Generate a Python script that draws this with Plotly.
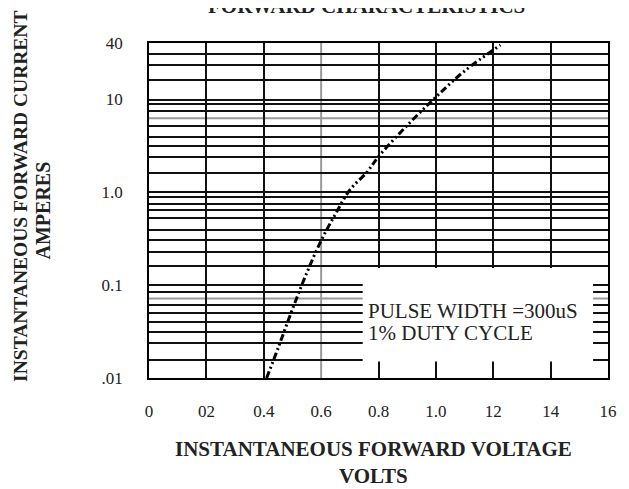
import math
import plotly.graph_objects as go

# ---- data ----
volts = [0.41, 0.45, 0.50, 0.55, 0.60, 0.65, 0.70, 0.76, 0.80, 0.90, 1.00, 1.10, 1.225]
amps = [0.010, 0.021, 0.055, 0.135, 0.30, 0.58, 1.05, 1.64, 2.4, 5.2, 10.5, 20.0, 38.0]

x_tick_vals = [0, 0.2, 0.4, 0.6, 0.8, 1.0, 1.2, 1.4, 1.6]
x_tick_text = ["0", "02", "0.4", "0.6", "0.8", "1.0", "12", "14", "16"]
y_tick_vals = [0.01, 0.1, 1, 10, 40]
y_tick_text = [".01", "0.1", "1.0", "10", "40"]

h_grid = [30.2, 23.2, 16.1, 9.69, 8.77, 7.43, 5.18, 3.91, 3.10, 2.38, 1.60,
          0.995, 0.886, 0.739, 0.638, 0.519, 0.392, 0.301, 0.227, 0.161,
          0.0998, 0.0833, 0.0608, 0.0503, 0.0402, 0.0310, 0.0238, 0.0157]
h_grid_gray = [6.21, 0.0718]
v_grid = [0.2, 0.4, 0.8, 1.0, 1.2, 1.4]
v_grid_gray = [0.6]

note_box_x = [0.745, 1.548]
note_box_y = [0.0150, 0.152]
note_lines = ["PULSE WIDTH =300uS", "1% DUTY CYCLE"]
note_x = 0.757
note_y = [0.0531, 0.0301]

SERIF = "Liberation Serif, Times New Roman, serif"

fig = go.Figure()
fig.add_trace(go.Scatter(
    x=volts, y=amps, mode="lines",
    line=dict(color="black", width=3, dash="7px,3px,2px,3px,2px,3px", shape="spline"),
    showlegend=False, hoverinfo="skip"))

shapes = []
for v in h_grid_gray:
    shapes.append(dict(type="line", xref="paper", yref="y", x0=0, x1=1, y0=v, y1=v,
                       line=dict(color="#9a9a9a", width=2), layer="below"))
for v in v_grid_gray:
    shapes.append(dict(type="line", xref="x", yref="paper", x0=v, x1=v, y0=0, y1=1,
                       line=dict(color="#9a9a9a", width=2), layer="below"))
shapes.append(dict(type="rect", xref="x", yref="y",
                   x0=note_box_x[0], x1=note_box_x[1], y0=note_box_y[0], y1=note_box_y[1],
                   fillcolor="white", line=dict(width=0), layer="above"))

annotations = []
for txt, yv in zip(note_lines, note_y):
    annotations.append(dict(text=txt, x=note_x, y=math.log10(yv), xref="x", yref="y",
                            xanchor="left", yanchor="middle", align="left", showarrow=False,
                            font=dict(family=SERIF, size=21, color="#222")))
annotations += [
    dict(text="<b>FORWARD CHARACTERISTICS</b>", x=0.473, y=1.111, xref="paper", yref="paper",
         xanchor="center", yanchor="middle", showarrow=False,
         font=dict(family=SERIF, size=21, color="#222")),
    dict(text="<b>INSTANTANEOUS FORWARD VOLTAGE<br>VOLTS</b>", x=0.490, y=-0.251,
         xref="paper", yref="paper", xanchor="center", yanchor="middle", showarrow=False,
         font=dict(family=SERIF, size=21, color="#222")),
    dict(text="<b>INSTANTANEOUS FORWARD CURRENT</b>", x=-0.2786, y=0.541, textangle=-90,
         xref="paper", yref="paper", xanchor="center", yanchor="middle", showarrow=False,
         font=dict(family=SERIF, size=19.5, color="#222")),
    dict(text="<b>AMPERES</b>", x=-0.231, y=0.50, textangle=-90,
         xref="paper", yref="paper", xanchor="center", yanchor="middle", showarrow=False,
         font=dict(family=SERIF, size=20, color="#222")),
]

fig.update_layout(
    width=621, height=481,
    margin=dict(l=141, r=17, t=35, b=111),
    paper_bgcolor="white", plot_bgcolor="white",
    shapes=shapes, annotations=annotations,
    xaxis=dict(range=[0, 1.6], tickmode="array", tickvals=x_tick_vals, ticktext=x_tick_text,
               showgrid=False, zeroline=False, ticks="", ticklabelstandoff=17,
               showline=True, mirror=True, linecolor="black", linewidth=1.5,
               tickfont=dict(family=SERIF, size=17, color="#222"),
               minor=dict(tickmode="array", tickvals=v_grid, showgrid=True,
                          gridcolor="#111", gridwidth=1.7, ticks="")),
    yaxis=dict(type="log", range=[-2, 1.60206], tickmode="array",
               tickvals=y_tick_vals, ticktext=y_tick_text,
               showgrid=False, zeroline=False, ticks="", ticklabelstandoff=21,
               showline=True, mirror=True, linecolor="black", linewidth=1.5,
               tickfont=dict(family=SERIF, size=17, color="#222"),
               minor=dict(tickmode="array", tickvals=h_grid, showgrid=True,
                          gridcolor="#111", gridwidth=1.7, ticks="")),
)

fig.write_html("out.html")
